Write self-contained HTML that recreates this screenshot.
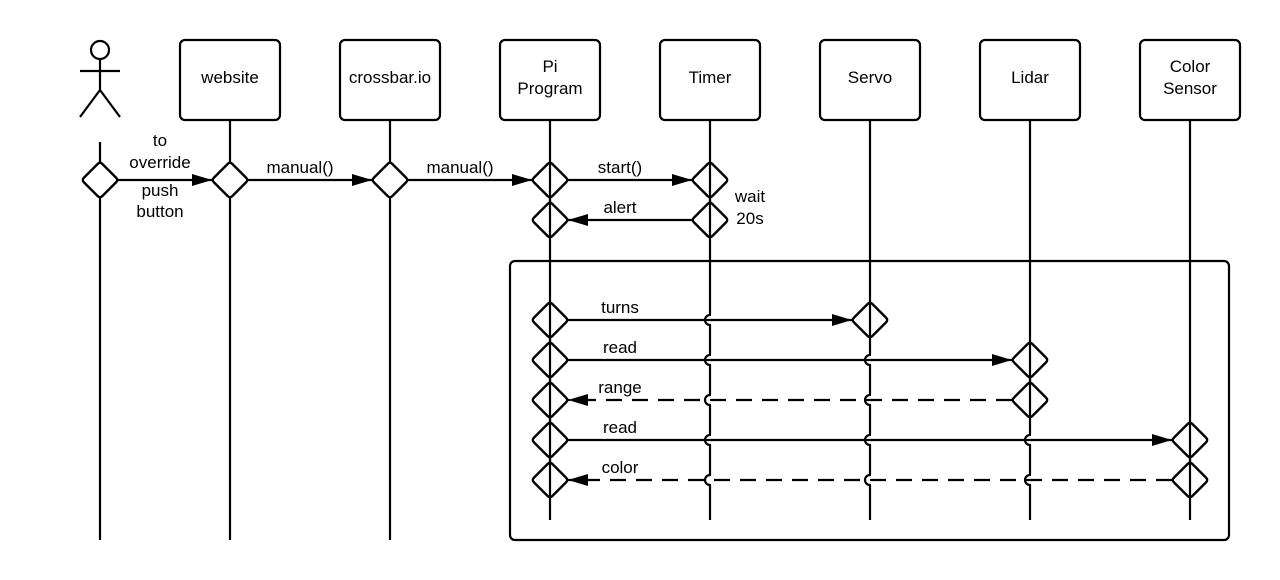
<!DOCTYPE html>
<html><head><meta charset="utf-8"><style>
html,body{margin:0;padding:0;background:#fff;}
svg{display:block;font-family:"Liberation Sans",Arial,sans-serif;font-size:17px;}
</style></head><body>
<svg width="1280" height="580" viewBox="0 0 1280 580" xmlns="http://www.w3.org/2000/svg">
<defs>
<marker id="ah" markerWidth="20" markerHeight="12" refX="20" refY="6" orient="auto" markerUnits="userSpaceOnUse">
<path d="M0,0 L20,6 L0,12 Z" fill="#000"/>
</marker>
</defs>
<g stroke="#000" stroke-width="2.2" fill="none" stroke-linejoin="round">
<rect x="510" y="261" width="719" height="279" rx="5"/>
<rect x="180" y="40" width="100" height="80" rx="5"/>
<rect x="340" y="40" width="100" height="80" rx="5"/>
<rect x="500" y="40" width="100" height="80" rx="5"/>
<rect x="660" y="40" width="100" height="80" rx="5"/>
<rect x="820" y="40" width="100" height="80" rx="5"/>
<rect x="980" y="40" width="100" height="80" rx="5"/>
<rect x="1140" y="40" width="100" height="80" rx="5"/>
<circle cx="100" cy="50" r="9"/>
<line x1="100" y1="59" x2="100" y2="90"/>
<line x1="80" y1="71" x2="120" y2="71"/>
<line x1="100" y1="90" x2="80" y2="117"/>
<line x1="100" y1="90" x2="120" y2="117"/>
<line x1="100" y1="142" x2="100" y2="540"/>
<line x1="230" y1="120" x2="230" y2="540"/>
<line x1="390" y1="120" x2="390" y2="540"/>
<line x1="550" y1="120" x2="550" y2="520"/>
<path d="M710,120 L710,315 A5,5 0 0 0 710,325 L710,355 A5,5 0 0 0 710,365 L710,395 A5,5 0 0 0 710,405 L710,435 A5,5 0 0 0 710,445 L710,475 A5,5 0 0 0 710,485 L710,520"/>
<path d="M870,120 L870,355 A5,5 0 0 0 870,365 L870,395 A5,5 0 0 0 870,405 L870,435 A5,5 0 0 0 870,445 L870,475 A5,5 0 0 0 870,485 L870,520"/>
<path d="M1030,120 L1030,435 A5,5 0 0 0 1030,445 L1030,475 A5,5 0 0 0 1030,485 L1030,520"/>
<line x1="1190" y1="120" x2="1190" y2="520"/>
<line x1="118" y1="180" x2="212" y2="180" marker-end="url(#ah)"/>
<line x1="248" y1="180" x2="372" y2="180" marker-end="url(#ah)"/>
<line x1="408" y1="180" x2="532" y2="180" marker-end="url(#ah)"/>
<line x1="568" y1="180" x2="692" y2="180" marker-end="url(#ah)"/>
<line x1="692" y1="220" x2="568" y2="220" marker-end="url(#ah)"/>
<line x1="568" y1="320" x2="852" y2="320" marker-end="url(#ah)"/>
<line x1="568" y1="360" x2="1012" y2="360" marker-end="url(#ah)"/>
<line x1="1012" y1="400" x2="568" y2="400" stroke-dasharray="16,10" marker-end="url(#ah)"/>
<line x1="568" y1="440" x2="1172" y2="440" marker-end="url(#ah)"/>
<line x1="1172" y1="480" x2="568" y2="480" stroke-dasharray="16,10" marker-end="url(#ah)"/>
</g>
<g stroke="#000" stroke-width="2.4" fill="#fff" stroke-linejoin="round">
<rect x="-13" y="-13" width="26" height="26" rx="3" transform="translate(100,180) rotate(45)"/>
<rect x="-13" y="-13" width="26" height="26" rx="3" transform="translate(230,180) rotate(45)"/>
<rect x="-13" y="-13" width="26" height="26" rx="3" transform="translate(390,180) rotate(45)"/>
<rect x="-13" y="-13" width="26" height="26" rx="3" transform="translate(550,180) rotate(45)"/>
<rect x="-13" y="-13" width="26" height="26" rx="3" transform="translate(710,180) rotate(45)"/>
<rect x="-13" y="-13" width="26" height="26" rx="3" transform="translate(550,220) rotate(45)"/>
<rect x="-13" y="-13" width="26" height="26" rx="3" transform="translate(710,220) rotate(45)"/>
<rect x="-13" y="-13" width="26" height="26" rx="3" transform="translate(550,320) rotate(45)"/>
<rect x="-13" y="-13" width="26" height="26" rx="3" transform="translate(550,360) rotate(45)"/>
<rect x="-13" y="-13" width="26" height="26" rx="3" transform="translate(550,400) rotate(45)"/>
<rect x="-13" y="-13" width="26" height="26" rx="3" transform="translate(550,440) rotate(45)"/>
<rect x="-13" y="-13" width="26" height="26" rx="3" transform="translate(550,480) rotate(45)"/>
<rect x="-13" y="-13" width="26" height="26" rx="3" transform="translate(870,320) rotate(45)"/>
<rect x="-13" y="-13" width="26" height="26" rx="3" transform="translate(1030,360) rotate(45)"/>
<rect x="-13" y="-13" width="26" height="26" rx="3" transform="translate(1030,400) rotate(45)"/>
<rect x="-13" y="-13" width="26" height="26" rx="3" transform="translate(1190,440) rotate(45)"/>
<rect x="-13" y="-13" width="26" height="26" rx="3" transform="translate(1190,480) rotate(45)"/>
</g>
<g stroke="#000" stroke-width="2.2">
<line x1="550" y1="162" x2="550" y2="238"/>
<line x1="710" y1="162" x2="710" y2="238"/>
<line x1="550" y1="302" x2="550" y2="498"/>
<line x1="870" y1="302" x2="870" y2="338"/>
<line x1="1030" y1="342" x2="1030" y2="418"/>
<line x1="1190" y1="422" x2="1190" y2="498"/>
</g>
<g fill="#000" text-anchor="middle">
<text x="230" y="83">website</text>
<text x="390" y="83">crossbar.io</text>
<text x="550" y="72">Pi</text>
<text x="550" y="94">Program</text>
<text x="710" y="83">Timer</text>
<text x="870" y="83">Servo</text>
<text x="1030" y="83">Lidar</text>
<text x="1190" y="72">Color</text>
<text x="1190" y="94">Sensor</text>
<text x="160" y="146">to</text>
<text x="160" y="168">override</text>
<text x="160" y="196">push</text>
<text x="160" y="217">button</text>
<text x="300" y="173">manual()</text>
<text x="460" y="173">manual()</text>
<text x="620" y="173">start()</text>
<text x="620" y="213">alert</text>
<text x="750" y="202">wait</text>
<text x="750" y="224">20s</text>
<text x="620" y="313">turns</text>
<text x="620" y="353">read</text>
<text x="620" y="393">range</text>
<text x="620" y="433">read</text>
<text x="620" y="473">color</text>
</g>
</svg>
</body></html>
